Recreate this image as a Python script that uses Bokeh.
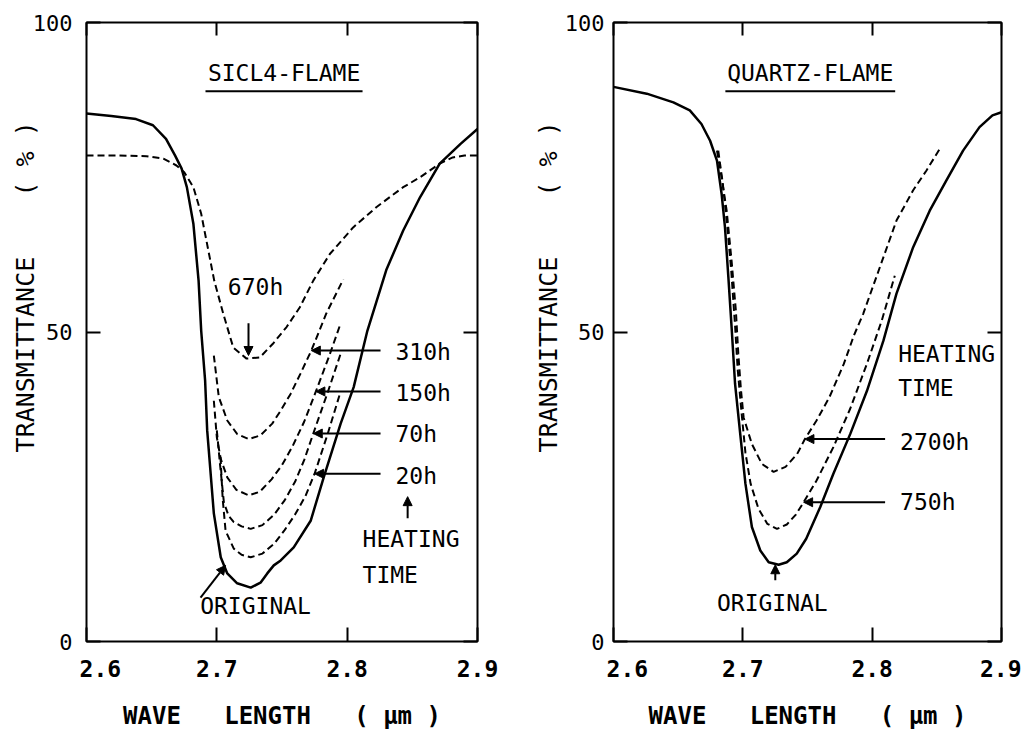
from bokeh.plotting import figure
from bokeh.layouts import row
from bokeh.models import (LinearAxis, FixedTicker, Arrow, NormalHead, Range1d,
                          ColumnDataSource)
from bokeh.embed import file_html
from bokeh.resources import INLINE
from bokeh.core.properties import value

FONT = "DejaVu Sans Mono"
NB = "\u00a0"

# ---------------- data ----------------
x_ticks = [2.6, 2.7, 2.8, 2.9]
y_ticks = [0, 50, 100]

# SiCl4-flame panel
sicl4_original_x = [2.600, 2.619, 2.638, 2.651, 2.661, 2.668, 2.673, 2.677, 2.682, 2.686,
                    2.688, 2.691, 2.6926, 2.6977, 2.703, 2.708, 2.7156, 2.726, 2.7335,
                    2.7387, 2.7437, 2.749, 2.759, 2.772, 2.782, 2.795, 2.805, 2.8155,
                    2.830, 2.843, 2.856, 2.871, 2.887, 2.900]
sicl4_original_y = [85.3, 84.9, 84.4, 83.4, 81.2, 78.5, 76.4, 73.4, 67.5, 58.3,
                    50.2, 42.2, 34.1, 20.7, 13.6, 11.0, 9.4, 8.7, 9.5,
                    11.0, 12.3, 13.1, 15.2, 19.5, 26.5, 35.2, 41.1, 50.2,
                    60.0, 66.4, 71.8, 77.2, 80.4, 82.8]

sicl4_670h_x = [2.600, 2.625, 2.646, 2.659, 2.669, 2.675, 2.682, 2.688, 2.693, 2.698,
                2.705, 2.7126, 2.7228, 2.733, 2.743, 2.7535, 2.7637, 2.774, 2.7867,
                2.8046, 2.8226, 2.843, 2.856, 2.871, 2.881, 2.890, 2.900]
sicl4_670h_y = [78.5, 78.5, 78.4, 78.0, 76.9, 75.8, 73.4, 69.1, 63.7, 58.3,
                52.9, 47.5, 45.7, 45.9, 48.1, 50.8, 54.0, 58.3, 62.6,
                66.9, 70.2, 73.4, 75.0, 77.2, 78.2, 78.5, 78.5]

sicl4_310h_x = [2.6977, 2.7015, 2.708, 2.7157, 2.7245, 2.7335, 2.7425, 2.749, 2.7566,
                2.764, 2.7725, 2.784, 2.797]
sicl4_310h_y = [46.2, 39.5, 35.7, 33.5, 32.7, 33.3, 35.2, 37.3, 40.0,
                43.2, 47.0, 53.0, 58.5]

sicl4_150h_x = [2.6977, 2.700, 2.703, 2.708, 2.715, 2.7245, 2.733, 2.742, 2.750,
                2.758, 2.767, 2.776, 2.786, 2.795]
sicl4_150h_y = [38.9, 33.0, 29.5, 26.5, 24.5, 23.6, 24.2, 26.2, 28.5,
                31.5, 35.5, 40.4, 46.0, 51.4]

sicl4_70h_x = [2.700, 2.7025, 2.7054, 2.709, 2.713, 2.719, 2.726, 2.735, 2.744,
               2.752, 2.760, 2.767, 2.774, 2.785, 2.795]
sicl4_70h_y = [34.1, 28.5, 22.5, 20.3, 19.3, 18.6, 18.2, 18.8, 20.5,
               22.8, 25.8, 29.3, 33.6, 40.2, 46.5]

sicl4_20h_x = [2.7028, 2.7045, 2.7067, 2.713, 2.719, 2.726, 2.735, 2.744, 2.752,
               2.760, 2.768, 2.775, 2.785, 2.795]
sicl4_20h_y = [29.8, 23.0, 17.9, 15.0, 14.0, 13.6, 14.2, 15.8, 18.0,
               20.5, 23.5, 27.1, 33.5, 40.4]

# Quartz-flame panel
quartz_original_x = [2.600, 2.6257, 2.6463, 2.659, 2.668, 2.6747, 2.680, 2.6836, 2.6862,
                     2.6888, 2.6913, 2.694, 2.698, 2.702, 2.707, 2.7135, 2.720, 2.7277,
                     2.734, 2.7417, 2.749, 2.7598, 2.770, 2.783, 2.796, 2.8087, 2.8188,
                     2.8317, 2.8445, 2.8574, 2.8703, 2.883, 2.893, 2.900]
quartz_original_y = [89.6, 88.5, 87.1, 85.8, 83.6, 80.9, 77.7, 72.3, 66.9,
                     58.9, 50.8, 41.6, 33.5, 25.5, 18.5, 14.7, 12.8, 12.4,
                     12.8, 14.2, 16.6, 21.7, 27.1, 33.5, 40.5, 48.6, 56.2,
                     63.7, 69.6, 74.5, 79.3, 83.1, 85.0, 85.5]

quartz_2700h_x = [2.680, 2.6836, 2.6875, 2.6913, 2.6946, 2.6965, 2.6985, 2.7006, 2.707,
                  2.7147, 2.7238, 2.733, 2.742, 2.748, 2.757, 2.767, 2.778, 2.786,
                  2.793, 2.806, 2.8188, 2.8317, 2.842, 2.8523]
quartz_2700h_y = [79.3, 75.0, 69.6, 61.5, 53.5, 46.5, 40.8, 36.2, 31.9,
                  28.7, 27.4, 28.2, 30.3, 32.7, 35.7, 39.5, 44.8, 49.5,
                  52.9, 60.5, 68.0, 72.9, 76.1, 79.6]

quartz_750h_x = [2.681, 2.6845, 2.688, 2.691, 2.694, 2.696, 2.699, 2.702, 2.706, 2.712,
                 2.719, 2.7264, 2.734, 2.741, 2.747, 2.757, 2.770, 2.783, 2.796,
                 2.8075, 2.8175]
quartz_750h_y = [79.3, 74.0, 67.0, 60.0, 51.0, 44.0, 37.0, 30.5, 25.5, 21.5,
                 19.0, 18.2, 18.9, 20.5, 22.5, 26.0, 31.4, 37.6, 44.9,
                 51.9, 59.1]

# ---------------- texts ----------------
y_title = NB * 6 + "TRANSMITTANCE" + NB * 4 + "(" + NB + "%" + NB + ")"
x_title = "WAVE" + NB * 3 + "LENGTH" + NB * 3 + "(" + NB + "\u03bcm" + NB + ")"
x_tick_overrides = {2.6: NB * 2 + "2.6"}

left_center_texts = ["SICL4-FLAME", "670h", "ORIGINAL"]
left_left_texts = ["310h", "150h", "70h", "20h", "HEATING", "TIME"]
right_center_texts = ["QUARTZ-FLAME", "ORIGINAL"]
right_left_texts = ["HEATING", "TIME", "2700h", "750h"]

# annotation placement (data coordinates)
left_center_pos = dict(x=[2.7516, 2.7297, 2.7297], y=[91.9, 57.2, 5.8])
left_left_pos = dict(x=[2.8371, 2.8371, 2.8371, 2.8371, 2.8118, 2.8118],
                     y=[46.7, 40.1, 33.6, 26.8, 16.5, 10.7])
right_center_pos = dict(x=[2.7521, 2.7228], y=[91.9, 6.3])
right_left_pos = dict(x=[2.8201, 2.8201, 2.8216, 2.8216], y=[46.4, 40.9, 32.3, 22.6])

left_arrows = dict(x0=[2.7243, 2.8256, 2.8256, 2.8256, 2.8256, 2.8464, 2.6875],
                   y0=[51.4, 47.0, 40.4, 33.6, 27.1, 19.9, 7.1],
                   x1=[2.7243, 2.7725, 2.776, 2.774, 2.775, 2.8464, 2.7067],
                   y1=[46.2, 47.0, 40.4, 33.6, 27.1, 23.4, 12.3])
right_arrows = dict(x0=[2.810, 2.810, 2.7251],
                    y0=[32.7, 22.5, 9.9],
                    x1=[2.748, 2.747, 2.7251],
                    y1=[32.7, 22.5, 12.4])
left_underline = dict(x0=[2.6913], x1=[2.8118], y=[88.9])
right_underline = dict(x0=[2.6865], x1=[2.8178], y=[88.9])


def build_panel(min_left, min_right, frame_w, solid, dashed, ctexts, cpos, ltexts, lpos,
                arrows, underline, ytick_standoff, ytitle_standoff):
    p = figure(frame_width=frame_w, frame_height=619,
               x_range=Range1d(2.6, 2.9), y_range=Range1d(0, 100),
               min_border_left=min_left, min_border_right=min_right,
               min_border_top=22, min_border_bottom=86,
               output_backend="svg", toolbar_location=None,
               background_fill_color="white", border_fill_color="white")
    p.xgrid.visible = False
    p.ygrid.visible = False
    p.outline_line_color = "black"
    p.outline_line_width = 2

    p.xaxis.ticker = FixedTicker(ticks=x_ticks)
    p.yaxis.ticker = FixedTicker(ticks=y_ticks)
    for ax in p.xaxis + p.yaxis:
        ax.major_tick_in = 14
        ax.major_tick_out = 0
        ax.major_tick_line_width = 2
        ax.major_tick_line_color = "black"
        ax.minor_tick_line_color = None
        ax.axis_line_color = None
        ax.major_label_text_color = "black"
        ax.major_label_text_font = FONT
        ax.axis_label_text_font = FONT
        ax.axis_label_text_color = "black"
    p.xaxis.major_label_text_font_size = "23px"
    p.xaxis.major_label_text_font_style = "bold"
    p.xaxis.major_label_standoff = 14
    p.xaxis.major_label_overrides = x_tick_overrides
    p.xaxis.axis_label = x_title
    p.xaxis.axis_label_text_font_size = "24px"
    p.xaxis.axis_label_text_font_style = "bold"
    p.xaxis.axis_label_standoff = 17

    p.yaxis.major_label_text_font_size = "22px"
    p.yaxis.major_label_standoff = ytick_standoff
    p.yaxis.axis_label = y_title
    p.yaxis.axis_label_text_font_size = "25px"
    p.yaxis.axis_label_text_font_style = "normal"
    p.yaxis.axis_label_standoff = ytitle_standoff

    top = LinearAxis(ticker=FixedTicker(ticks=x_ticks), major_tick_in=13, major_tick_out=0,
                     major_tick_line_width=2, minor_tick_line_color=None,
                     axis_line_color=None, major_label_text_font_size="1px",
                     major_label_text_color=None, major_label_standoff=0)
    right = LinearAxis(ticker=FixedTicker(ticks=y_ticks), major_tick_in=14, major_tick_out=0,
                       major_tick_line_width=2, minor_tick_line_color=None,
                       axis_line_color=None, major_label_text_font_size="1px",
                       major_label_text_color=None, major_label_standoff=0)
    p.add_layout(top, "above")
    p.add_layout(right, "right")

    sx, sy = solid
    p.line(sx, sy, line_color="black", line_width=2.5)
    for dx, dy in dashed:
        p.line(dx, dy, line_color="black", line_width=2, line_dash="7 4")

    p.segment(x0="x0", y0="y", x1="x1", y1="y", source=ColumnDataSource(underline),
              line_color="black", line_width=2)

    csrc = ColumnDataSource(dict(text=ctexts, **cpos))
    p.text(x="x", y="y", text="text", source=csrc, text_font=value(FONT),
           text_font_size=value("23px"), text_align="center", text_baseline="middle",
           text_color="black")
    lsrc = ColumnDataSource(dict(text=ltexts, **lpos))
    p.text(x="x", y="y", text="text", source=lsrc, text_font=value(FONT),
           text_font_size=value("23px"), text_align="left", text_baseline="middle",
           text_color="black")

    p.add_layout(Arrow(end=NormalHead(size=9, fill_color="black", line_color="black", line_width=1),
                       x_start="x0", y_start="y0", x_end="x1", y_end="y1",
                       source=ColumnDataSource(arrows), line_color="black", line_width=2))
    return p


p1 = build_panel(86, 37, 391, (sicl4_original_x, sicl4_original_y),
                 [(sicl4_670h_x, sicl4_670h_y), (sicl4_310h_x, sicl4_310h_y),
                  (sicl4_150h_x, sicl4_150h_y), (sicl4_70h_x, sicl4_70h_y),
                  (sicl4_20h_x, sicl4_20h_y)],
                 left_center_texts, left_center_pos, left_left_texts, left_left_pos,
                 left_arrows, left_underline, 14, -10)
p2 = build_panel(99, 20, 388, (quartz_original_x, quartz_original_y),
                 [(quartz_2700h_x, quartz_2700h_y), (quartz_750h_x, quartz_750h_y)],
                 right_center_texts, right_center_pos, right_left_texts, right_left_pos,
                 right_arrows, right_underline, 9, -1)

layout = row(p1, p2)
open("out.html", "w").write(file_html(layout, INLINE))
